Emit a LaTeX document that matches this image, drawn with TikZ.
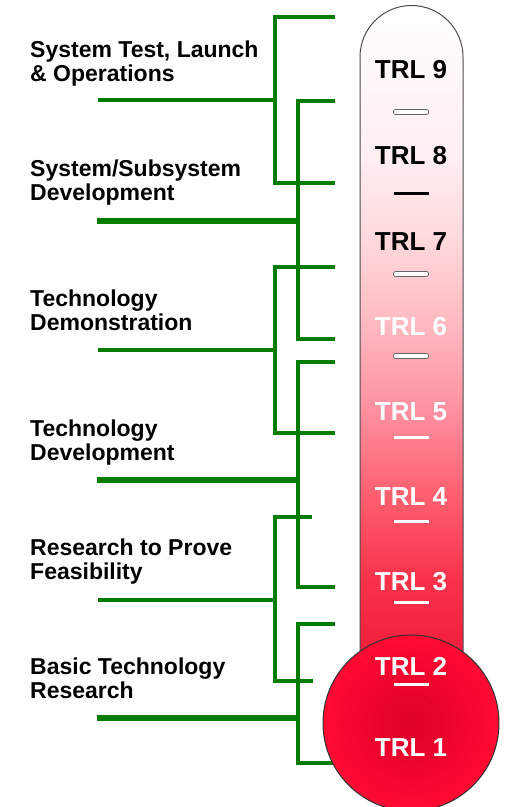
\documentclass[tikz,border=0pt]{standalone}
\usepackage{fontspec}
\setmainfont{Liberation Sans}

\definecolor{brgreen}{RGB}{0,125,0}
\definecolor{tubeA}{RGB}{242,30,60}
\definecolor{tubeB}{RGB}{248,50,74}
\definecolor{tubeC}{RGB}{255,96,112}
\definecolor{tubeD}{RGB}{255,144,160}
\definecolor{tubeE}{RGB}{255,184,192}
\definecolor{tubeF}{RGB}{255,216,220}
\definecolor{tubeG}{RGB}{255,238,240}
\definecolor{bulbin}{RGB}{222,0,40}
\definecolor{bulbout}{RGB}{255,10,50}

\pgfdeclareverticalshading{tubeshade}{100bp}{color(0bp)=(tubeA); color(25bp)=(tubeA);
  color(30.6bp)=(tubeB); color(37.2bp)=(tubeC); color(43.7bp)=(tubeD); color(50.2bp)=(tubeE);
  color(56.8bp)=(tubeF); color(63.3bp)=(tubeG); color(75bp)=(white); color(100bp)=(white)}

\begin{document}
\begin{tikzpicture}[x=1pt, y=1pt,
  br/.style={draw=brgreen, line width=3.5pt},
  brthick/.style={draw=brgreen, line width=6pt},
  phase/.style={anchor=base west, align=left, inner sep=0pt, font=\fontsize{23}{24}\selectfont\bfseries},
  trlk/.style={inner sep=0pt, text=black, font=\fontsize{26}{28}\selectfont\bfseries},
  trlw/.style={inner sep=0pt, text=white, font=\fontsize{26}{28}\selectfont\bfseries},
  sepo/.style={draw=gray!80!black, fill=white, rounded corners=2pt, minimum width=35pt, minimum height=5pt, inner sep=0pt, line width=0.8pt},
  sepk/.style={fill=black, minimum width=35pt, minimum height=3pt, inner sep=0pt},
  sepw/.style={fill=white, minimum width=35pt, minimum height=3pt, inner sep=0pt}
]
  \useasboundingbox (0,0) rectangle (508,-807);

  % phase labels (base = last line)
  \node[phase] (ph6) at (30,-81) {System Test, Launch\\\& Operations};
  \node[phase] (ph5) at (30,-200) {System/Subsystem\\Development};
  \node[phase] (ph4) at (30,-330) {Technology\\Demonstration};
  \node[phase] (ph3) at (30,-460) {Technology\\Development};
  \node[phase] (ph2) at (30,-579) {Research to Prove\\Feasibility};
  \node[phase] (ph1) at (30,-698) {Basic Technology\\Research};

  % bracket ends
  \coordinate (a1) at (335,-17);  \coordinate (a2) at (335,-183); \coordinate (aj) at (275,-100); \coordinate (af) at (98,-100);
  \coordinate (b1) at (335,-101); \coordinate (b2) at (335,-339); \coordinate (bj) at (298,-221); \coordinate (bf) at (97,-221);
  \coordinate (c1) at (335,-267); \coordinate (c2) at (335,-433); \coordinate (cj) at (275,-350); \coordinate (cf) at (98,-350);
  \coordinate (d1) at (335,-362); \coordinate (d2) at (335,-587); \coordinate (dj) at (298,-480); \coordinate (df) at (97,-480);
  \coordinate (e1) at (312,-517); \coordinate (e2) at (313,-681); \coordinate (ej) at (275,-600); \coordinate (ef) at (98,-600);
  \coordinate (f1) at (335,-624); \coordinate (f2) at (335,-763); \coordinate (fj) at (298,-718); \coordinate (ff) at (97,-718);

  \draw[br] (a1) -| (aj) |- (a2);
  \draw[br] (af) -- (aj);
  \draw[br] (b1) -| (bj) |- (b2);
  \draw[brthick] (bf) -- (bj);
  \draw[br] (c1) -| (cj) |- (c2);
  \draw[br] (cf) -- (cj);
  \draw[br] (d1) -| (dj) |- (d2);
  \draw[brthick] (df) -- (dj);
  \draw[br] (e1) -| (ej) |- (e2);
  \draw[br] (ef) -- (ej);
  \draw[br] (f1) -| (fj) |- (f2);
  \draw[brthick] (ff) -- (fj);

  % thermometer
  \shade[shading=tubeshade, draw=gray!60!black, line width=1pt]
    (360,-652) -- (360,-57) arc (180:0:51.5) -- (463,-652);
  \shade[inner color=bulbin, outer color=bulbout, draw=black!80, line width=1pt] (411,-723) circle (88);

  % levels
  \node[trlk] (t9) at (411,-70) {TRL 9};
  \node[trlk] (t8) at (411,-156) {TRL 8};
  \node[trlk] (t7) at (411,-242) {TRL 7};
  \node[trlw] (t6) at (411,-327) {TRL 6};
  \node[trlw] (t5) at (411,-412) {TRL 5};
  \node[trlw] (t4) at (411,-497) {TRL 4};
  \node[trlw] (t3) at (411,-582) {TRL 3};
  \node[trlw] (t2) at (411,-666) {TRL 2};
  \node[trlw] (t1) at (411,-748) {TRL 1};

  \node[sepo] (s98) at (411,-112) {};
  \node[sepk] (s87) at (411,-193) {};
  \node[sepo] (s76) at (411,-274) {};
  \node[sepo] (s65) at (411,-356) {};
  \node[sepw] (s54) at (411,-437) {};
  \node[sepw] (s43) at (411,-521) {};
  \node[sepw] (s32) at (411,-602) {};
  \node[sepw] (s21) at (411,-684) {};
\end{tikzpicture}
\end{document}
